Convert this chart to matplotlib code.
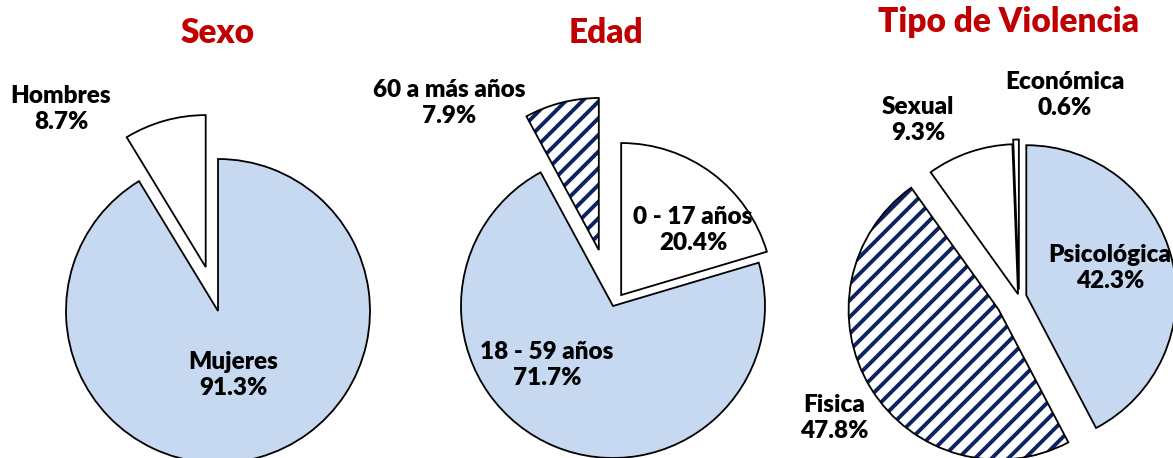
import matplotlib
matplotlib.use("Agg")
import matplotlib.pyplot as plt

# ---- data ----
sexo_labels = ["Mujeres", "Hombres"]
sexo_values = [91.3, 8.7]

edad_labels = ["0 - 17 años", "18 - 59 años", "60 a más años"]
edad_values = [20.4, 71.7, 7.9]

tipo_labels = ["Psicológica", "Fisica", "Sexual", "Económica"]
tipo_values = [42.3, 47.8, 9.3, 0.6]

titles = ["Sexo", "Edad", "Tipo de Violencia"]

# ---- styles / layout (pixel coordinates, y from top) ----
W, H = 1173, 458
BLUE = "#C6D9F1"
WHITE = "#FFFFFF"
NAVY = "#0B2361"
RED = "#C00000"
plt.rcParams["font.family"] = ["Lato", "DejaVu Sans"]
plt.rcParams["hatch.linewidth"] = 2.8

charts = [
    dict(values=sexo_values, labels=sexo_labels,
         colors=[BLUE, WHITE], hatch=[False, False],
         explode=[0, 0.3], center=(218, 311), radius=152,
         label_pos=[(233, 375), (61, 109)],
         title_pos=(218, 33)),
    dict(values=edad_values, labels=edad_labels,
         colors=[WHITE, BLUE, WHITE], hatch=[False, False, True],
         explode=[0.09, 0, 0.38], center=(613, 306), radius=152,
         label_pos=[(693, 230), (547, 365), (449, 103)],
         title_pos=(606, 33)),
    dict(values=tipo_values, labels=tipo_labels,
         colors=[BLUE, WHITE, WHITE, WHITE], hatch=[False, True, False, False],
         explode=[0.05, 0.16, 0.02, 0.05], center=(1019, 297), radius=150,
         label_pos=[(1110, 268), (834, 418), (918, 120), (1065, 95)],
         title_pos=(1008, 22)),
]

fig = plt.figure(figsize=(W / 100, H / 100), dpi=100)
ax = fig.add_axes([0, 0, 1, 1])

for ch in charts:
    cx, cy = ch["center"]
    center = (cx, H - cy)
    r = ch["radius"]
    expl = [e * r for e in ch["explode"]]
    # fill + hatch layer
    wedges, _ = ax.pie(ch["values"], colors=ch["colors"], startangle=90,
                       counterclock=False, explode=expl,
                       center=center, radius=r,
                       wedgeprops=dict(linewidth=0))
    for w, h in zip(wedges, ch["hatch"]):
        if h:
            w.set_hatch("//")
            w.set_edgecolor(NAVY)
            w.set_linewidth(0)
    # outline layer
    ax.pie(ch["values"], startangle=90, counterclock=False,
           explode=expl, center=center, radius=r,
           wedgeprops=dict(fill=False, edgecolor="black", linewidth=1.3))
    for lab, val, (lx, ly) in zip(ch["labels"], ch["values"], ch["label_pos"]):
        ax.text(lx, H - ly, f"{lab}\n{val:.1f}%", ha="center", va="center",
                fontsize=17.5, fontweight="heavy", color="black",
                linespacing=1.2, zorder=5)
for t, ch in zip(titles, charts):
    tx, ty = ch["title_pos"]
    ax.text(tx, H - ty, t, ha="center", va="center", fontsize=24,
            fontweight="heavy", color=RED)

ax.set_xlim(0, W)
ax.set_ylim(0, H)
ax.set_aspect("equal")
ax.axis("off")
fig.savefig("out.png", dpi=100)
